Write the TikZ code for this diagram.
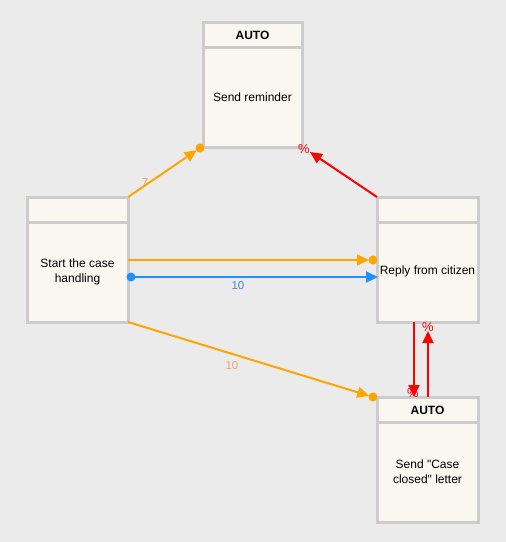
\documentclass[tikz,border=0pt]{standalone}
\usepackage{fontspec}
\setmainfont{Liberation Sans}
\newfontfamily\plainsans{Liberation Sans}[Ligatures=TeXOff]
\usetikzlibrary{arrows.meta}
\definecolor{bg}{HTML}{EBEBEB}
\definecolor{boxfill}{HTML}{F9F7F0}
\definecolor{boxline}{HTML}{CCCCCC}
\definecolor{orng}{HTML}{FFA500}
\definecolor{orlbl}{HTML}{F4A460}
\definecolor{blu}{HTML}{1E90FF}
\definecolor{blulbl}{HTML}{4A86D8}
\definecolor{rd}{HTML}{FF0000}
\tikzset{
  statebox/.style={draw=boxline, line width=3pt, fill=boxfill, minimum width=#1, minimum height=125pt, inner sep=0pt, outer sep=0pt},
  statebox/.default=101pt,
  txt/.style={font=\fontsize{12}{15}\selectfont, align=center, inner sep=0pt},
  hdr/.style={font=\fontsize{12}{15}\selectfont\bfseries, inner sep=0pt},
  conn/.style={line width=2pt, -{Triangle[length=12pt,width=11pt]}},
  dot/.style={circle, fill=#1, minimum size=9pt, inner sep=0pt},
  lbl/.style={font=\fontsize{11.5}{14}\selectfont, inner sep=0pt},
  pct/.style={font=\fontsize{13}{15}\selectfont, inner sep=0pt, text=rd},
}
\begin{document}
\begin{tikzpicture}[x=1pt,y=-1pt]
\useasboundingbox[fill=bg] (0,0) rectangle (506,542);
% boxes
\node[statebox=99pt] (rem) at (252.5,84.5) {};
\node[statebox] (start) at (77.5,259.5) {};
\node[statebox] (reply) at (427.5,259.5) {};
\node[statebox] (closed) at (427.5,459.5) {};
\draw[boxline, line width=3pt] ([yshift=-25pt]rem.north west) -- ([yshift=-25pt]rem.north east);
\draw[boxline, line width=3pt] ([yshift=-25pt]start.north west) -- ([yshift=-25pt]start.north east);
\draw[boxline, line width=3pt] ([yshift=-25pt]reply.north west) -- ([yshift=-25pt]reply.north east);
\draw[boxline, line width=3pt] ([yshift=-25pt]closed.north west) -- ([yshift=-25pt]closed.north east);
% texts
\node[hdr] (remh) at (252.5,35) {AUTO};
\node[txt] (remt) at (252.5,97) {Send reminder};
\node[txt] (startt) at (77.5,272) {Start the case\\handling};
\node[txt] (replyt) at (427.5,271) {Reply from citizen};
\node[hdr] (closedh) at (427.5,410) {AUTO};
\node[txt] (closedt) at (427.5,472) {\plainsans Send "Case\\\plainsans closed" letter};
% coordinates
\coordinate (d1) at (200,148);
\coordinate (d2) at (373,260);
\coordinate (d3) at (131,277);
\coordinate (d4) at (373,397);
\coordinate (s2) at (128,260);
\coordinate (e3) at (378,277);
\coordinate (r5) at (310,152);
\coordinate (a6) at (414,322);
\coordinate (b6) at (414,397);
\coordinate (a7) at (428,397);
\coordinate (b7) at (428,331);
% connectors
\draw[conn, orng, shorten >=4pt] (start.north east) -- (d1);
\node[dot=orng] at (d1) {};
\node[lbl, text=orlbl] (l1) at (145,183) {7};
\draw[conn, orng, shorten >=4pt] (s2) -- (d2);
\node[dot=orng] at (d2) {};
\draw[conn, blu] (d3) -- (e3);
\node[dot=blu] at (d3) {};
\node[lbl, text=blulbl] (l3) at (238,286) {10};
\draw[conn, orng, shorten >=4pt] (start.south east) -- (d4);
\node[dot=orng] at (d4) {};
\node[lbl, text=orlbl] (l4) at (232,366) {10};
\draw[conn, rd] (reply.north west) -- (r5);
\node[pct] (p5) at (304,149) {\%};
\draw[conn, rd] (a6) -- (b6);
\node[pct] (p6) at (413,393) {\%};
\draw[conn, rd] (a7) -- (b7);
\node[pct] (p7) at (428,327) {\%};
\end{tikzpicture}
\end{document}
